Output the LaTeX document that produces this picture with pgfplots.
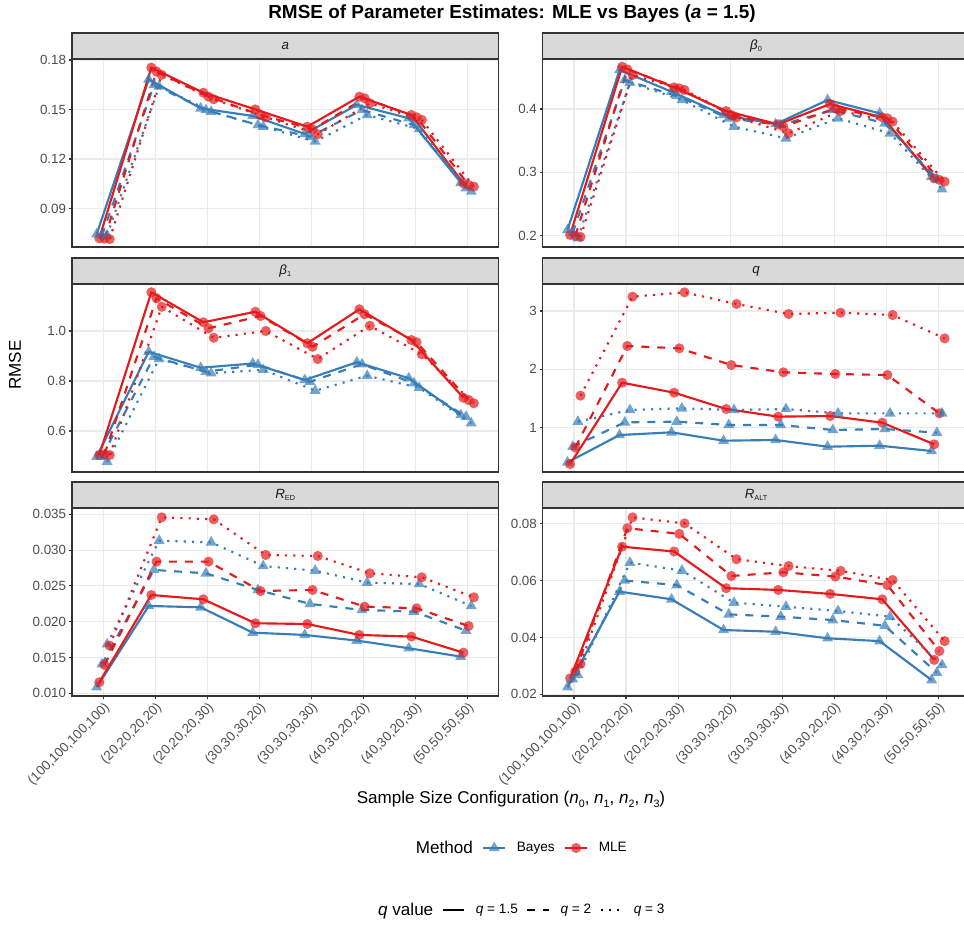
\documentclass[border=0pt]{standalone}
\usepackage{fontspec}
\setmainfont{Liberation Sans}
\usepackage{pgfplots}
\usepackage{pgfplotstable}
\pgfplotsset{compat=1.18}

\definecolor{bayes}{HTML}{377EB8}
\definecolor{mle}{HTML}{E41A1C}
\definecolor{grey20}{HTML}{333333}
\definecolor{grey30}{HTML}{4D4D4D}
\definecolor{grey92}{HTML}{EBEBEB}
\definecolor{grey85}{HTML}{D9D9D9}
\definecolor{grey10}{HTML}{1A1A1A}

\newcommand\tickfont{\fontsize{10}{12}\selectfont}
\newcommand\stripfont{\fontsize{10}{12}\selectfont}
\newcommand\subf{\fontsize{5.5}{6}\selectfont}
\newcommand\sbs[1]{\raisebox{-0.35ex}{\subf #1}}
\newcommand\sbx[1]{\raisebox{-0.45ex}{\fontsize{8}{9}\selectfont #1}}

% columns: Bayes q=1.5, MLE q=1.5, Bayes q=2, MLE q=2, Bayes q=3, MLE q=3
\pgfplotstableread{
x b15 m15 b2 m2 b3 m3
1 0.0745 0.0720 0.0735 0.0718 0.0738 0.0715
2 0.1683 0.1754 0.1649 0.1730 0.1640 0.1710
3 0.1507 0.1602 0.1497 0.1578 0.1487 0.1562
4 0.1461 0.1501 0.1406 0.1467 0.1396 0.1453
5 0.1352 0.1396 0.1335 0.1380 0.1306 0.1350
6 0.1528 0.1578 0.1497 0.1568 0.1467 0.1538
7 0.1447 0.1467 0.1406 0.1453 0.1382 0.1437
8 0.1057 0.1053 0.1023 0.1043 0.1003 0.1033
}\tabA
\pgfplotstableread{
x b15 m15 b2 m2 b3 m3
1 0.2090 0.2010 0.2040 0.1995 0.1960 0.1980
2 0.4616 0.4668 0.4458 0.4626 0.4416 0.4537
3 0.4274 0.4342 0.4205 0.4326 0.4142 0.4300
4 0.3905 0.3968 0.3853 0.3905 0.3721 0.3868
5 0.3763 0.3758 0.3747 0.3721 0.3537 0.3616
6 0.4142 0.4079 0.3984 0.4010 0.3853 0.3968
7 0.3932 0.3868 0.3774 0.3853 0.3616 0.3800
8 0.2932 0.2905 0.2890 0.2880 0.2732 0.2853
}\tabB
\pgfplotstableread{
x b15 m15 b2 m2 b3 m3
1 0.497 0.504 0.497 0.507 0.477 0.504
2 0.917 1.155 0.897 1.131 0.888 1.097
3 0.853 1.035 0.837 1.011 0.831 0.973
4 0.870 1.077 0.865 1.060 0.845 1.000
5 0.804 0.951 0.797 0.937 0.761 0.888
6 0.875 1.087 0.867 1.067 0.821 1.021
7 0.811 0.964 0.791 0.955 0.773 0.907
8 0.664 0.733 0.657 0.724 0.631 0.711
}\tabC
\pgfplotstableread{
x b15 m15 b2 m2 b3 m3
1 0.406 0.377 0.674 0.660 1.103 1.549
2 0.874 1.771 1.091 2.400 1.303 3.246
3 0.920 1.600 1.103 2.360 1.331 3.320
4 0.777 1.320 1.046 2.074 1.303 3.120
5 0.789 1.189 1.046 1.949 1.320 2.949
6 0.674 1.200 0.960 1.920 1.246 2.971
7 0.691 1.086 0.977 1.903 1.246 2.931
8 0.600 0.714 0.914 1.246 1.246 2.531
}\tabD
\pgfplotstableread{
x b15 m15 b2 m2 b3 m3
1 0.01084 0.01154 0.01405 0.01396 0.01685 0.01666
2 0.02220 0.02373 0.02723 0.02839 0.03132 0.03458
3 0.02201 0.02313 0.02676 0.02839 0.03109 0.03430
4 0.01847 0.01978 0.02443 0.02429 0.02778 0.02932
5 0.01815 0.01968 0.02248 0.02443 0.02713 0.02918
6 0.01736 0.01815 0.02164 0.02211 0.02546 0.02676
7 0.01629 0.01792 0.02141 0.02187 0.02527 0.02620
8 0.01512 0.01568 0.01875 0.01940 0.02220 0.02341
}\tabE
\pgfplotstableread{
x b15 m15 b2 m2 b3 m3
1 0.0225 0.0256 0.0253 0.0280 0.0268 0.0307
2 0.0561 0.0719 0.0600 0.0784 0.0663 0.0822
3 0.0534 0.0702 0.0584 0.0764 0.0635 0.0801
4 0.0426 0.0573 0.0481 0.0616 0.0522 0.0675
5 0.0420 0.0567 0.0473 0.0629 0.0508 0.0651
6 0.0397 0.0553 0.0461 0.0614 0.0493 0.0634
7 0.0387 0.0534 0.0441 0.0584 0.0473 0.0602
8 0.0250 0.0321 0.0276 0.0352 0.0303 0.0387
}\tabF

\pgfplotsset{
  panel/.style={
    scale only axis, width=319.9pt, height=141pt,
    xmin=0.4, xmax=8.6, xtick={1,...,8},
    grid=major, major grid style={color=grey92, line width=0.8pt},
    axis line style={draw=grey20, line width=0.8pt},
    tick align=outside, major tick length=2.3pt,
    tick style={color=grey20, line width=0.8pt},
    xtick pos=bottom, ytick pos=left,
    clip=false,
    ticklabel style={font=\tickfont, text=grey30},
    yticklabel style={inner sep=2pt},
    anchor=south west,
  },
  toprow/.style={xticklabels={}, xtick style={draw=none}},
  botrow/.style={
    xticklabels={{(100,100,100,100)},{(20,20,20,20)},{(20,20,20,30)},{(30,30,30,20)},{(30,30,30,30)},{(40,30,20,20)},{(40,30,20,30)},{(50,50,50,50)}},
    xticklabel style={rotate=45, anchor=north east, inner sep=1pt, font=\tickfont, text=grey30},
  },
  bl/.style={color=bayes, line width=1.6pt, line join=round, no markers},
  ml/.style={color=mle, line width=1.6pt, line join=round, no markers},
  q2/.style={dash pattern=on 6pt off 6pt},
  q3/.style={dash pattern=on 1.6pt off 4.6pt},
  bm/.style={only marks, color=bayes, mark=triangle*, mark size=4.8pt, mark options={solid, fill=bayes, draw opacity=0, fill opacity=0.7}},
  mm/.style={only marks, color=mle, mark=*, mark size=3.8pt, mark options={solid, fill=mle, draw opacity=0, fill opacity=0.7}},
}

\newcommand\panelplots[1]{%
  \addplot[bl, solid] table[x expr=\thisrow{x}-0.125, y=b15]{#1};
  \addplot[ml, solid] table[x expr=\thisrow{x}-0.075, y=m15]{#1};
  \addplot[bl, q2] table[x expr=\thisrow{x}-0.025, y=b2]{#1};
  \addplot[ml, q2] table[x expr=\thisrow{x}+0.025, y=m2]{#1};
  \addplot[bl, q3] table[x expr=\thisrow{x}+0.075, y=b3]{#1};
  \addplot[ml, q3] table[x expr=\thisrow{x}+0.125, y=m3]{#1};
  \addplot[bm] table[x expr=\thisrow{x}-0.125, y=b15]{#1};
  \addplot[mm] table[x expr=\thisrow{x}-0.075, y=m15]{#1};
  \addplot[bm] table[x expr=\thisrow{x}-0.025, y=b2]{#1};
  \addplot[mm] table[x expr=\thisrow{x}+0.025, y=m2]{#1};
  \addplot[bm] table[x expr=\thisrow{x}+0.075, y=b3]{#1};
  \addplot[mm] table[x expr=\thisrow{x}+0.125, y=m3]{#1};
}
\newcommand\stripbox[1]{%
  \draw[fill=grey85, draw=grey20, line width=0.8pt] (rel axis cs:0,1) rectangle ([yshift=19.5pt]rel axis cs:1,1);
  \node[font=\stripfont, text=grey10, inner sep=0pt] at ([yshift=9.75pt]rel axis cs:0.5,1) {#1};
}

\begin{document}
\begin{tikzpicture}
% row 1
\begin{axis}[panel, toprow, at={(54pt,-185.25pt)},
  ymin=0.0667, ymax=0.1806, ytick={0.09,0.12,0.15,0.18}, yticklabels={0.09,0.12,0.15,0.18}]
  \panelplots{\tabA}
  \stripbox{\textit{a}}
\end{axis}
\begin{axis}[panel, toprow, at={(407.1pt,-185.25pt)},
  ymin=0.182, ymax=0.479, ytick={0.2,0.3,0.4}, yticklabels={0.2,0.3,0.4}]
  \panelplots{\tabB}
  \stripbox{\textit{β}\sbs{0}}
\end{axis}
% row 2
\begin{axis}[panel, toprow, at={(54pt,-354pt)},
  ymin=0.436, ymax=1.188, ytick={0.6,0.8,1.0}, yticklabels={0.6,0.8,1.0}]
  \panelplots{\tabC}
  \stripbox{\textit{β}\sbs{1}}
\end{axis}
\begin{axis}[panel, toprow, at={(407.1pt,-354pt)},
  ymin=0.24, ymax=3.463, ytick={1,2,3}, yticklabels={1,2,3}]
  \panelplots{\tabD}
  \stripbox{\textit{q}}
\end{axis}
% row 3
\begin{axis}[panel, botrow, at={(54pt,-522pt)},
  ymin=0.00962, ymax=0.03588, ytick={0.010,0.015,0.020,0.025,0.030,0.035}, yticklabels={0.010,0.015,0.020,0.025,0.030,0.035}]
  \panelplots{\tabE}
  \stripbox{\textit{R}\sbs{ED}}
\end{axis}
\begin{axis}[panel, botrow, at={(407.1pt,-522pt)},
  ymin=0.0194, ymax=0.0855, ytick={0.02,0.04,0.06,0.08}, yticklabels={0.02,0.04,0.06,0.08}]
  \panelplots{\tabF}
  \stripbox{\textit{R}\sbs{ALT}}
\end{axis}

% titles
\node[font=\fontsize{14.2}{16}\selectfont\bfseries, text=black] at (384pt,-10.3pt) {RMSE of Parameter Estimates: MLE vs Bayes (\textit{a} = 1.5)};
\node[font=\fontsize{12.8}{15}\selectfont, rotate=90] at (11.25pt,-273.75pt) {RMSE};
\node[font=\fontsize{12.8}{15}\selectfont] at (383.25pt,-599.25pt) {Sample Size Configuration (\textit{n}\sbx{0}, \textit{n}\sbx{1}, \textit{n}\sbx{2}, \textit{n}\sbx{3})};

% legend: Method
\begin{axis}[at={(388pt,-636pt)}, anchor=center, hide axis, scale only axis, width=1pt, height=1pt,
  xmin=0, xmax=1, ymin=0, ymax=1,
  legend columns=-1,
  legend style={at={(0.5,0.5)}, anchor=center, draw=none, fill=none, font=\fontsize{10.2}{12}\selectfont,
    /tikz/every odd column/.append style={column sep=6pt},
    /tikz/every even column/.append style={column sep=5pt}},
  legend image code/.code={\draw[mark repeat=2, mark phase=2, #1] plot coordinates {(0pt,0pt) (8.25pt,0pt) (16.5pt,0pt)};}]
  \addlegendimage{empty legend}
  \addlegendentry{\fontsize{12.8}{15}\selectfont Method}
  \addlegendimage{color=bayes, line width=1.6pt, mark=triangle*, mark size=4.8pt, mark options={solid, fill=bayes, draw opacity=0, fill opacity=0.7}}
  \addlegendentry{Bayes}
  \addlegendimage{color=mle, line width=1.6pt, mark=*, mark size=3.8pt, mark options={solid, fill=mle, draw opacity=0, fill opacity=0.7}}
  \addlegendentry{MLE}
\end{axis}

% legend: q value
\begin{axis}[at={(388pt,-682.5pt)}, anchor=center, hide axis, scale only axis, width=1pt, height=1pt,
  xmin=0, xmax=1, ymin=0, ymax=1,
  legend columns=-1,
  legend style={at={(0.5,0.5)}, anchor=center, draw=none, fill=none, font=\fontsize{10.2}{12}\selectfont,
    /tikz/every odd column/.append style={column sep=6pt},
    /tikz/every even column/.append style={column sep=4pt}},
  legend image code/.code={\draw[#1] (0pt,0pt) -- (16pt,0pt);}]
  \addlegendimage{empty legend}
  \addlegendentry{\fontsize{12.8}{15}\selectfont\textit{q} value}
  \addlegendimage{black, line width=2pt}
  \addlegendentry{\textit{q} = 1.5}
  \addlegendimage{black, line width=2pt, dash pattern=on 6pt off 6pt}
  \addlegendentry{\textit{q} = 2}
  \addlegendimage{black, line width=2pt, dash pattern=on 1.6pt off 4.6pt}
  \addlegendentry{\textit{q} = 3}
\end{axis}

\pgfresetboundingbox
\useasboundingbox (0pt,0pt) rectangle (723pt,-693.75pt);
\end{tikzpicture}
\end{document}
